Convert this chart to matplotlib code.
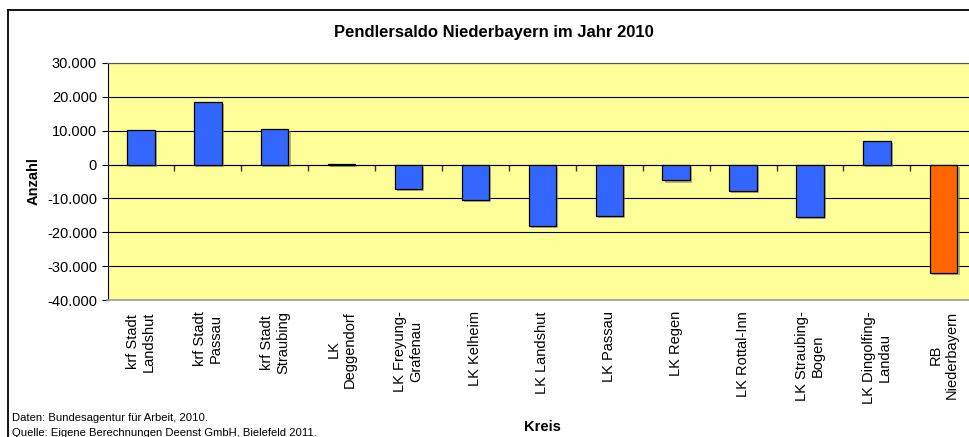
import numpy as np
import matplotlib.pyplot as plt
import matplotlib.patheffects as pe
from matplotlib.lines import Line2D
from matplotlib.ticker import FuncFormatter

# data
kreise = [
    "krf Stadt\nLandshut", "krf Stadt\nPassau", "krf Stadt\nStraubing",
    "LK\nDeggendorf", "LK Freyung-\nGrafenau", "LK Kelheim", "LK Landshut",
    "LK Passau", "LK Regen", "LK Rottal-Inn", "LK Straubing-\nBogen",
    "LK Dingolfing-\nLandau", "RB\nNiederbayern",
]
saldo = [10300, 18500, 10600, 300, -7200, -10400, -18100,
         -15300, -4700, -7800, -15500, 7100, -32000]
colors = ["#3366FF"] * 12 + ["#FF6600"]

plt.rcParams["font.family"] = ["Liberation Sans", "DejaVu Sans"]

fig = plt.figure(figsize=(9.69, 4.37), dpi=100)
ax = fig.add_axes([107.5 / 969, 1 - 300 / 437, 1 - 107.5 / 969, (300 - 63) / 437])
ax.set_facecolor("#FFFF99")

x = np.arange(len(kreise))
shadow = [pe.SimplePatchShadow(offset=(1.5, -1.5), shadow_rgbFace="#808060", alpha=0.6), pe.Normal()]
bars = ax.bar(x, saldo, width=0.41, color=colors, edgecolor="black", linewidth=0.9, zorder=3)
for b in bars:
    b.set_path_effects(shadow)

ax.set_ylim(-40000, 30000)
ax.set_xlim(-0.5, 12.377)
ax.set_yticks(np.arange(-40000, 30001, 10000))
ax.yaxis.set_major_formatter(FuncFormatter(lambda v, _: f"{v:,.0f}".replace(",", ".")))
ax.grid(axis="y", color="black", lw=0.8, zorder=1)
ax.tick_params(axis="y", direction="out", length=4, labelsize=10.5, color="black")

ax.set_xticks(x)
ax.set_xticklabels(kreise, rotation=90, ha="center", va="top",
                   multialignment="center", fontsize=10.5)
ax.tick_params(axis="x", length=0, pad=8)

ax.spines["right"].set_visible(False)
ax.spines["left"].set_color("black")
ax.spines["top"].set_color("#555555")
ax.spines["bottom"].set_color("#999999")
ax.spines["bottom"].set_linewidth(1.2)

# category axis crossing at zero with tick marks between categories
zero = ax.secondary_xaxis(40000 / 70000)
zero.set_xticks(np.arange(0.5, len(kreise) - 1, 1))
zero.tick_params(direction="in", length=4, labeltop=False, labelbottom=False, width=1, color="#333333")
zero.spines["top"].set_color("#333333")
zero.spines["bottom"].set_color("#333333")

ax.set_ylabel("Anzahl", fontsize=10.5, fontweight="bold")
ax.yaxis.set_label_coords(-0.078, 0.5)
ax.set_xlabel("Kreis", fontsize=10.5, fontweight="bold")
ax.xaxis.set_label_coords((542.5 - 107.5) / 861.5, -(420 - 300) / 237, transform=ax.transAxes)

fig.text(494 / 969, 1 - 33 / 437, "Pendlersaldo Niederbayern im Jahr 2010",
         ha="center", va="center", fontsize=12, fontweight="bold")
fig.text(12 / 969, 1 - 418 / 437, "Daten: Bundesagentur für Arbeit, 2010.",
         ha="left", va="center", fontsize=8.1)
fig.text(12 / 969, 1 - 433 / 437, "Quelle: Eigene Berechnungen Deenst GmbH, Bielefeld 2011.",
         ha="left", va="center", fontsize=8.1)

# outer chart border (only left and top visible)
bx, by = 8 / 969, 1 - 10 / 437
fig.add_artist(Line2D([bx, bx], [-0.05, by], color="black", lw=1.3, transform=fig.transFigure))
fig.add_artist(Line2D([bx, 1.05], [by, by], color="black", lw=1.3, transform=fig.transFigure))

fig.savefig("out.png", dpi=100)
